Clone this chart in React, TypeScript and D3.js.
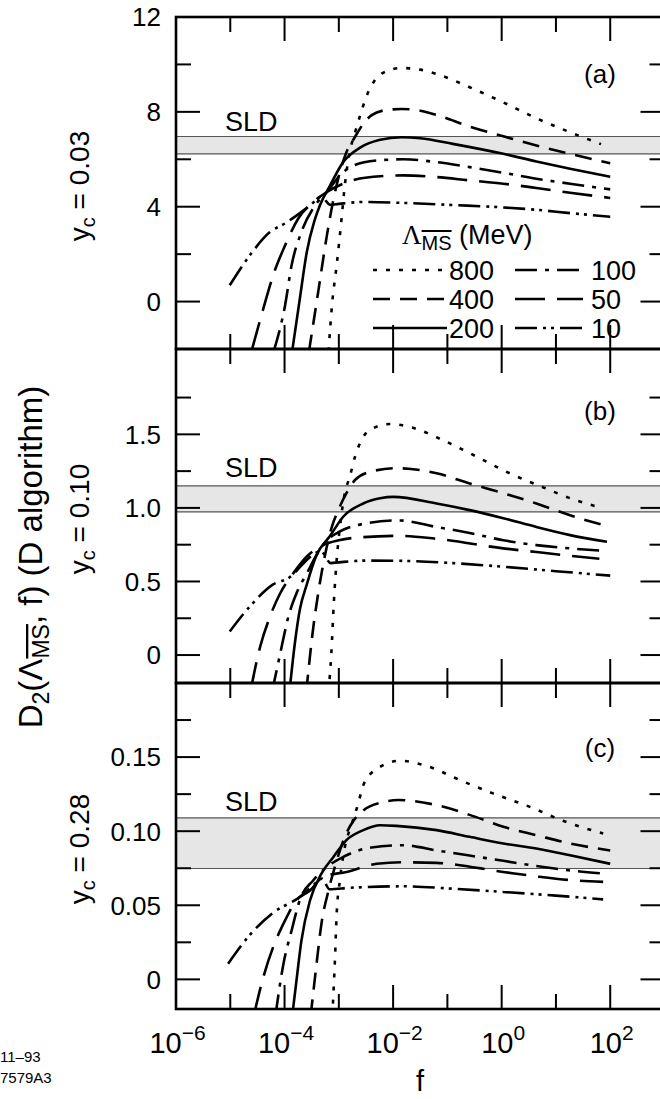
import React from 'react';
import * as d3 from 'd3';

// Lambda_MS values and their line styles
const lambdas = ['800', '400', '200', '100', '50', '10'];
const dashes = ['4,9', '17,10', '', '22,8,4,8', '30,12', '22,6,3,5,3,6'];

// x ticks (powers of ten)
const majorExp = [-4, -2, 0, 2];
const minorExp = [-5, -3, -1, 1];
const xLabelExp = [-6, -4, -2, 0, 2];

// panel (a), y_c = 0.03 : [log10 f, D2]
const a800 = [[-3.19, -2.1], [-3.12, 0], [-3.04, 1.53], [-2.95, 3.49], [-2.89, 4.9], [-2.8, 6.3], [-2.7, 7.14], [-2.6, 7.9], [-2.5, 8.6], [-2.36, 9.25], [-2.12, 9.72], [-1.85, 9.85], [-1.5, 9.78], [-1.2, 9.6], [-0.59, 9.04], [0.03, 8.4], [0.64, 7.73], [1.26, 7.14], [1.83, 6.64]];
const a400 = [[-3.55, -2.1], [-3.38, 0.41], [-3.22, 2.79], [-3.1, 4.3], [-2.98, 5.46], [-2.86, 6.3], [-2.7, 6.95], [-2.55, 7.5], [-2.4, 7.85], [-2.12, 8.08], [-1.85, 8.12], [-1.5, 8.05], [-1.2, 7.87], [-0.59, 7.38], [0.03, 6.97], [0.64, 6.58], [1.26, 6.23], [2.0, 5.83]];
const a200 = [[-3.86, -2.1], [-3.72, 0.1], [-3.59, 2.09], [-3.45, 3.4], [-3.35, 4.05], [-3.16, 4.9], [-2.92, 5.88], [-2.6, 6.5], [-2.24, 6.82], [-1.85, 6.93], [-1.5, 6.89], [-0.9, 6.65], [0.03, 6.23], [0.64, 5.91], [1.26, 5.6], [2.0, 5.26]];
const a100 = [[-4.2, -2.1], [-3.99, -0.15], [-3.87, 1.53], [-3.69, 2.93], [-3.44, 4.05], [-3.22, 4.62], [-2.98, 5.32], [-2.73, 5.74], [-2.3, 5.95], [-1.81, 6.0], [-1.2, 5.88], [-0.59, 5.67], [0.03, 5.43], [0.64, 5.18], [1.26, 4.97], [2.0, 4.73]];
const a50 = [[-4.61, -2.1], [-4.39, -0.29], [-4.21, 1.11], [-3.99, 2.37], [-3.75, 3.49], [-3.47, 4.2], [-3.22, 4.62], [-2.92, 4.97], [-2.55, 5.21], [-1.81, 5.32], [-1.2, 5.25], [-0.59, 5.11], [0.03, 4.97], [0.64, 4.79], [1.26, 4.59], [2.0, 4.37]];
const a10 = [[-5.01, 0.69], [-4.64, 1.95], [-4.27, 2.93], [-3.99, 3.3], [-3.53, 4.05], [-3.32, 4.42], [-3.16, 4.08], [-3.0, 4.12], [-2.55, 4.2], [-1.81, 4.16], [-0.9, 4.07], [0.03, 3.97], [0.64, 3.87], [1.26, 3.73], [2.0, 3.58]];

// panel (b), y_c = 0.10
const b800 = [[-3.19, -0.25], [-3.14, 0.0], [-3.09, 0.37], [-3.04, 0.645], [-2.98, 0.87], [-2.89, 1.1], [-2.8, 1.21], [-2.7, 1.35], [-2.61, 1.44], [-2.43, 1.53], [-2.06, 1.57], [-1.69, 1.55], [-1.08, 1.46], [-0.47, 1.35], [0.15, 1.235], [0.76, 1.14], [1.38, 1.05], [1.85, 1.0]];
const b400 = [[-3.6, -0.25], [-3.47, 0.19], [-3.38, 0.42], [-3.26, 0.67], [-3.13, 0.87], [-3.01, 0.985], [-2.86, 1.1], [-2.7, 1.19], [-2.43, 1.245], [-1.94, 1.27], [-1.2, 1.235], [-0.59, 1.166], [0.03, 1.1], [0.64, 1.03], [1.26, 0.95], [2.0, 0.87]];
const b200 = [[-3.91, -0.25], [-3.81, 0.08], [-3.72, 0.306], [-3.59, 0.48], [-3.41, 0.68], [-3.16, 0.81], [-2.92, 0.94], [-2.55, 1.03], [-2.24, 1.065], [-2.0, 1.075], [-1.2, 1.03], [-0.59, 0.985], [0.03, 0.93], [0.64, 0.87], [1.26, 0.815], [1.94, 0.77]];
const b100 = [[-4.23, -0.25], [-4.08, 0.01], [-3.93, 0.26], [-3.78, 0.42], [-3.59, 0.555], [-3.41, 0.68], [-3.22, 0.78], [-2.98, 0.84], [-2.5, 0.895], [-1.9, 0.915], [-1.2, 0.87], [-0.59, 0.83], [0.03, 0.78], [0.64, 0.747], [1.26, 0.725], [1.8, 0.71]];
const b50 = [[-4.63, -0.25], [-4.45, 0.056], [-4.27, 0.26], [-4.08, 0.42], [-3.84, 0.555], [-3.59, 0.67], [-3.35, 0.736], [-3.0, 0.78], [-2.6, 0.8], [-1.9, 0.81], [-1.2, 0.79], [0.03, 0.725], [0.64, 0.7], [1.26, 0.675], [1.8, 0.655]];
const b10 = [[-5.01, 0.16], [-4.64, 0.33], [-4.21, 0.48], [-3.9, 0.53], [-3.66, 0.62], [-3.45, 0.69], [-3.33, 0.705], [-3.15, 0.625], [-3.0, 0.63], [-2.5, 0.642], [-1.81, 0.64], [-0.9, 0.625], [0.03, 0.6], [1.0, 0.57], [2.0, 0.54]];

// panel (c), y_c = 0.28
const c800 = [[-3.12, -0.025], [-3.07, 0.015], [-3.04, 0.044], [-2.98, 0.067], [-2.89, 0.089], [-2.76, 0.105], [-2.64, 0.119], [-2.55, 0.131], [-2.3, 0.142], [-1.87, 0.1475], [-1.38, 0.144], [-0.77, 0.1345], [-0.16, 0.1255], [0.52, 0.1164], [1.13, 0.107], [1.87, 0.0984]];
const c400 = [[-3.52, -0.025], [-3.41, 0.0106], [-3.32, 0.0376], [-3.19, 0.06], [-3.04, 0.08], [-2.89, 0.0962], [-2.73, 0.107], [-2.55, 0.114], [-2.2, 0.1195], [-1.9, 0.121], [-1.2, 0.1176], [-0.59, 0.111], [0.03, 0.103], [0.64, 0.0973], [1.26, 0.0917], [2.0, 0.087]];
const c200 = [[-3.86, -0.025], [-3.78, -0.0007], [-3.69, 0.026], [-3.53, 0.0534], [-3.32, 0.0714], [-3.1, 0.0826], [-2.86, 0.094], [-2.55, 0.1007], [-2.24, 0.104], [-1.94, 0.1036], [-1.2, 0.1007], [-0.59, 0.0962], [0.03, 0.0917], [0.64, 0.0883], [1.26, 0.0838], [2.0, 0.078]];
const c100 = [[-4.17, -0.025], [-4.02, 0.0106], [-3.87, 0.033], [-3.72, 0.0534], [-3.47, 0.0669], [-3.22, 0.0759], [-2.92, 0.0826], [-2.4, 0.089], [-1.81, 0.0905], [-1.2, 0.087], [0.03, 0.08], [0.64, 0.0765], [1.26, 0.0735], [1.87, 0.0714]];
const c50 = [[-4.57, -0.025], [-4.39, 0.0016], [-4.21, 0.0218], [-4.02, 0.0376], [-3.78, 0.0534], [-3.53, 0.06], [-3.29, 0.0692], [-2.86, 0.0725], [-2.3, 0.078], [-1.81, 0.079], [-1.2, 0.0786], [0.03, 0.0725], [0.64, 0.0695], [1.26, 0.067], [1.87, 0.0658]];
const c10 = [[-5.04, 0.0106], [-4.64, 0.03], [-4.21, 0.045], [-3.72, 0.0556], [-3.5, 0.0625], [-3.31, 0.068], [-3.17, 0.0608], [-2.8, 0.0618], [-1.81, 0.0628], [-0.9, 0.0612], [0.03, 0.059], [1.0, 0.0565], [1.87, 0.054]];

// y axes
const aMajor = [0, 4, 8];
const aMinor = [2, 6, 10];
const aTickVals = [0, 4, 8, 12];
const aTickLabels = ['0', '4', '8', '12'];
const bMajor = [0, 0.5, 1.0, 1.5];
const bMinor = [0.25, 0.75, 1.25, 1.75];
const bTickVals = [0, 0.5, 1.0, 1.5];
const bTickLabels = ['0', '0.5', '1.0', '1.5'];
const cMajor = [0, 0.05, 0.1, 0.15];
const cMinor = [0.025, 0.075, 0.125, 0.175];
const cTickVals = [0, 0.05, 0.1, 0.15];
const cTickLabels = ['0', '0.05', '0.10', '0.15'];

// SLD measurement bands
const sldA = [6.23, 6.96];
const sldB = [0.973, 1.15];
const sldC = [0.0748, 0.109];

const FONT = 'Liberation Sans, Arial, Helvetica, sans-serif';
const X0 = 176;
const X1 = 664.5;

const panels = [
  { id: 'a', top: 17, bottom: 349, domain: [-2, 12], major: aMajor, minor: aMinor, tv: aTickVals, tl: aTickLabels, band: sldA, curves: [a800, a400, a200, a100, a50, a10], letter: '(a)', letterY: 83, sldY: 130.7, yc: '0.03' },
  { id: 'b', top: 349, bottom: 683, domain: [-0.19, 2.08], major: bMajor, minor: bMinor, tv: bTickVals, tl: bTickLabels, band: sldB, curves: [b800, b400, b200, b100, b50, b10], letter: '(b)', letterY: 420, sldY: 477, yc: '0.10' },
  { id: 'c', top: 683, bottom: 1009, domain: [-0.02, 0.2], major: cMajor, minor: cMinor, tv: cTickVals, tl: cTickLabels, band: sldC, curves: [c800, c400, c200, c100, c50, c10], letter: '(c)', letterY: 757, sldY: 810.5, yc: '0.28' },
];

const x = d3.scaleLog().domain([1e-6, 1e3]).range([X0, X1]);

export default function App() {
  return (
    <div style={{ position: 'absolute', left: 0, top: 0 }}>
      <svg width={660} height={1099} style={{ display: 'block', overflow: 'hidden', background: '#fff' }} fontFamily={FONT}>
        <defs>
          {panels.map((p) => (
            <clipPath id={'clip-' + p.id} key={p.id}>
              <rect x={X0} y={p.top} width={X1 - X0} height={p.bottom - p.top} />
            </clipPath>
          ))}
        </defs>
        {panels.map((p) => {
          const y = d3.scaleLinear().domain(p.domain).range([p.bottom, p.top]);
          const line = d3
            .line<number[]>()
            .x((d) => x(Math.pow(10, d[0])))
            .y((d) => y(d[1]))
            .curve(d3.curveMonotoneX);
          return (
            <g key={p.id}>
              <rect x={X0} y={y(p.band[1])} width={X1 - X0} height={y(p.band[0]) - y(p.band[1])} fill="#e6e6e6" />
              <line x1={X0} x2={X1} y1={y(p.band[1])} y2={y(p.band[1])} stroke="#555" strokeWidth={1.2} />
              <line x1={X0} x2={X1} y1={y(p.band[0])} y2={y(p.band[0])} stroke="#555" strokeWidth={1.2} />
              <text x={225} y={p.sldY} fontSize={27}>SLD</text>
              <text x={600} y={p.letterY} fontSize={26} textAnchor="middle">{p.letter}</text>
              <g clipPath={`url(#clip-${p.id})`}>
                {p.curves.map((c, i) => (
                  <path key={i} d={line(c) || ''} fill="none" stroke="#000" strokeWidth={2.6} strokeDasharray={dashes[i] || undefined} />
                ))}
              </g>
              {/* x ticks top and bottom */}
              {majorExp.map((e) => (
                <g key={'M' + e}>
                  <line x1={x(10 ** e)} x2={x(10 ** e)} y1={p.top} y2={p.top + 24} stroke="#000" strokeWidth={2} />
                  <line x1={x(10 ** e)} x2={x(10 ** e)} y1={p.bottom} y2={p.bottom - 24} stroke="#000" strokeWidth={2} />
                </g>
              ))}
              {minorExp.map((e) => (
                <g key={'m' + e}>
                  <line x1={x(10 ** e)} x2={x(10 ** e)} y1={p.top} y2={p.top + 15} stroke="#000" strokeWidth={2} />
                  <line x1={x(10 ** e)} x2={x(10 ** e)} y1={p.bottom} y2={p.bottom - 15} stroke="#000" strokeWidth={2} />
                </g>
              ))}
              {/* y ticks left and right */}
              {p.major.map((v) => (
                <g key={'yM' + v}>
                  <line x1={X0} x2={X0 + 24} y1={y(v)} y2={y(v)} stroke="#000" strokeWidth={2} />
                  <line x1={X1} x2={X1 - 24} y1={y(v)} y2={y(v)} stroke="#000" strokeWidth={2} />
                </g>
              ))}
              {p.minor.map((v) => (
                <g key={'ym' + v}>
                  <line x1={X0} x2={X0 + 15} y1={y(v)} y2={y(v)} stroke="#000" strokeWidth={2} />
                  <line x1={X1} x2={X1 - 15} y1={y(v)} y2={y(v)} stroke="#000" strokeWidth={2} />
                </g>
              ))}
              {p.tv.map((v, i) => (
                <text key={'yl' + v} x={161} y={y(v)} dy="0.36em" fontSize={26} textAnchor="end">{p.tl[i]}</text>
              ))}
              <rect x={X0} y={p.top} width={X1 - X0} height={p.bottom - p.top} fill="none" stroke="#000" strokeWidth={2.6} />
              <text transform={`translate(89,${(p.top + p.bottom) / 2 + 3}) rotate(-90)`} fontSize={28} textAnchor="middle">
                y<tspan fontSize={20} dy={6}>c</tspan><tspan dy={-6}> = {p.yc}</tspan>
              </text>
            </g>
          );
        })}

        {/* legend in panel (a) */}
        <text x={402} y={244} fontSize={27}>
          <tspan fontFamily="Liberation Serif, Times New Roman, serif">Λ</tspan>
          <tspan fontSize={20} dy={6} style={{ textDecoration: 'overline' }}>MS</tspan>
          <tspan dy={-6}> (MeV)</tspan>
        </text>
        {lambdas.map((l, i) => {
          const col = i < 3 ? 0 : 1;
          const row = i % 3;
          const cy = 270 + row * 29;
          const lx0 = col === 0 ? 373 : 515;
          const lx1 = col === 0 ? 447 : 583;
          const tx = col === 0 ? 449 : 591;
          return (
            <g key={l}>
              <line x1={lx0} x2={lx1} y1={cy} y2={cy} stroke="#000" strokeWidth={2.6} strokeDasharray={dashes[i] || undefined} />
              <text x={tx} y={cy} dy="0.36em" fontSize={27}>{l}</text>
            </g>
          );
        })}

        {/* x tick labels */}
        {xLabelExp.map((e) => (
          <text key={'xl' + e} x={x(10 ** e) + 1.5} y={1053} fontSize={29} textAnchor="middle">
            10<tspan fontSize={21} dy={-13}>{e < 0 ? '\u2212' + Math.abs(e) : String(e)}</tspan>
          </text>
        ))}
        <text x={420} y={1091} fontSize={29} textAnchor="middle">f</text>

        {/* y axis title */}
        <text transform="translate(42,557) rotate(-90)" fontSize={33} textAnchor="middle">
          D<tspan fontSize={23} dy={7}>2</tspan>
          <tspan dy={-7}>(</tspan>
          <tspan>Λ</tspan>
          <tspan fontSize={23} dy={7} style={{ textDecoration: 'overline' }}>MS</tspan>
          <tspan dy={-7}>, f) (D algorithm)</tspan>
        </text>

        <text x={0} y={1062} fontSize={15}>11–93</text>
        <text x={0} y={1083} fontSize={15}>7579A3</text>
      </svg>
    </div>
  );
}
